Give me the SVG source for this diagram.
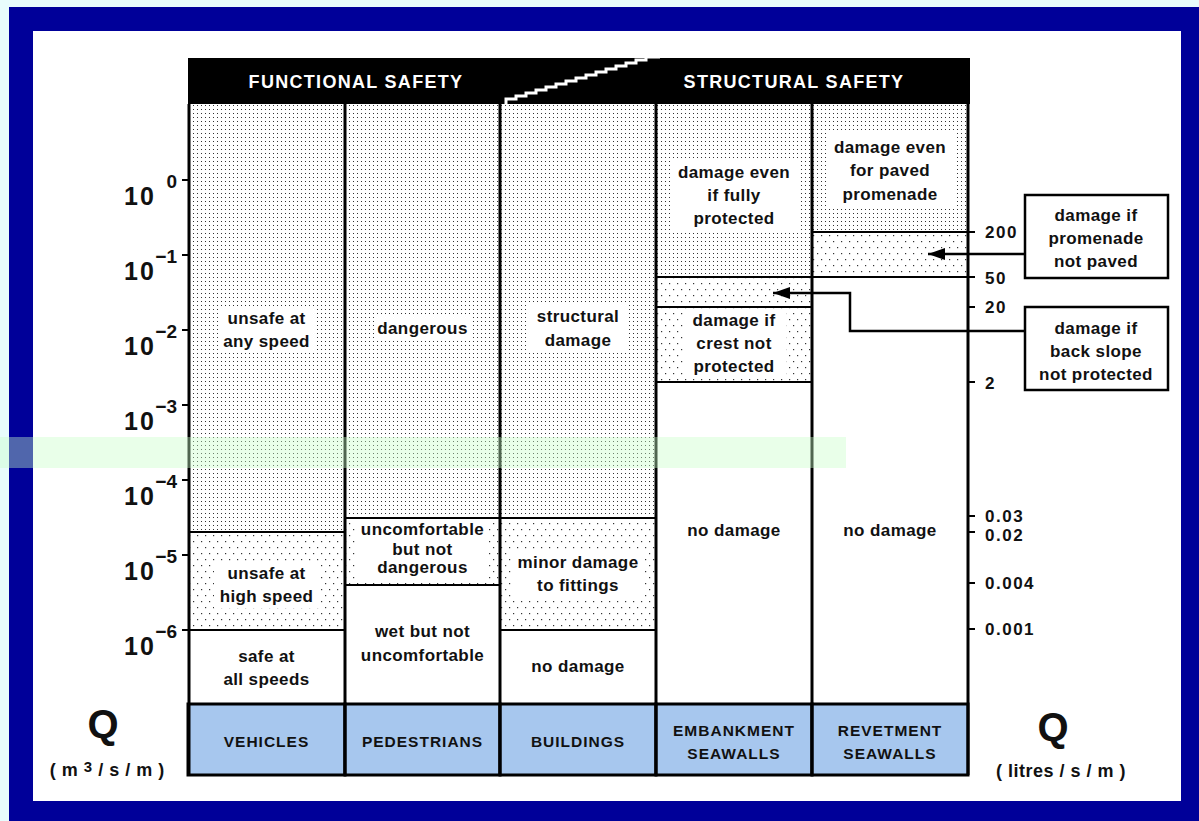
<svg xmlns="http://www.w3.org/2000/svg" width="1199" height="821" viewBox="0 0 1199 821">
<style>
.lbl{font-family:"Liberation Sans",Arial,sans-serif;font-weight:bold;font-size:17px;letter-spacing:0.4px;fill:#111;text-anchor:middle}
.hdr{font-family:"Liberation Sans",Arial,sans-serif;font-weight:bold;font-size:18px;letter-spacing:1.3px;fill:#fff;text-anchor:middle}
.cat{font-family:"Liberation Sans",Arial,sans-serif;font-weight:bold;font-size:15.5px;letter-spacing:1px;fill:#111;text-anchor:middle}
.big{font-family:"Liberation Sans",Arial,sans-serif;font-weight:bold;font-size:25px;letter-spacing:2px;fill:#111}
.exp{font-family:"Liberation Sans",Arial,sans-serif;font-weight:bold;font-size:19px;fill:#111;text-anchor:end}
.num{font-family:"Liberation Sans",Arial,sans-serif;font-weight:bold;font-size:17px;letter-spacing:1.5px;fill:#111}
.q{font-family:"Liberation Sans",Arial,sans-serif;font-weight:bold;font-size:40px;fill:#111;text-anchor:middle}
.unit{font-family:"Liberation Sans",Arial,sans-serif;font-weight:bold;font-size:18px;fill:#111;text-anchor:middle}
.ln{stroke:#000;stroke-width:2;fill:none}
.vl{stroke:#000;stroke-width:3;fill:none}
.wb{fill:#fff}
.box{fill:#fff;stroke:#000;stroke-width:2.5}
.cat-bg{fill:#a7c7ee;stroke:#000;stroke-width:3}
</style>
<defs>
<pattern id="dense" width="4" height="4" patternUnits="userSpaceOnUse">
<rect width="4" height="4" fill="#fff"/>
<rect x="1" y="1" width="1" height="1" fill="#333"/>
</pattern>
<pattern id="sparse" width="8" height="12" patternUnits="userSpaceOnUse">
<rect width="8" height="12" fill="#fff"/>
<rect x="1" y="1" width="1.2" height="1.2" fill="#333"/>
<rect x="5" y="7" width="1.2" height="1.2" fill="#333"/>
</pattern>
<marker id="arr" markerWidth="17" markerHeight="12" refX="17" refY="6" orient="auto" markerUnits="userSpaceOnUse">
<path d="M0,0 L17,6 L0,12 Z" fill="#000"/>
</marker>
</defs>

<rect x="0" y="0" width="1199" height="821" fill="#e8fcfc"/>
<rect x="9" y="7" width="1190" height="814" fill="#000099"/>
<rect x="33" y="31" width="1148" height="770" fill="#fff"/>

<g id="col-vehicles">
<rect x="188" y="104" width="157" height="428" fill="url(#dense)"/>
<rect x="188" y="532" width="157" height="98" fill="url(#sparse)"/>
<rect x="218" y="306" width="97" height="47" class="wb"/>
<text class="lbl" x="266.5" y="324">unsafe at</text>
<text class="lbl" x="266.5" y="347">any speed</text>
<rect x="214" y="561" width="105" height="47" class="wb"/>
<text class="lbl" x="266.5" y="579">unsafe at</text>
<text class="lbl" x="266.5" y="602">high speed</text>
<text class="lbl" x="266.5" y="662">safe at</text>
<text class="lbl" x="266.5" y="685">all speeds</text>
<line class="ln" x1="188" y1="532" x2="345" y2="532"/>
<line class="ln" x1="188" y1="630" x2="345" y2="630"/>
</g>

<g id="col-pedestrians">
<rect x="345" y="104" width="155" height="414" fill="url(#dense)"/>
<rect x="345" y="518" width="155" height="67" fill="url(#sparse)"/>
<rect x="375" y="316" width="95" height="25" class="wb"/>
<text class="lbl" x="422.5" y="334">dangerous</text>
<rect x="356" y="520" width="133" height="59" class="wb"/>
<text class="lbl" x="422.5" y="535">uncomfortable</text>
<text class="lbl" x="422.5" y="555">but not</text>
<text class="lbl" x="422.5" y="573">dangerous</text>
<text class="lbl" x="422.5" y="637">wet but not</text>
<text class="lbl" x="422.5" y="661">uncomfortable</text>
<line class="ln" x1="345" y1="518" x2="500" y2="518"/>
<line class="ln" x1="345" y1="585" x2="500" y2="585"/>
</g>

<g id="col-buildings">
<rect x="500" y="104" width="156" height="414" fill="url(#dense)"/>
<rect x="500" y="518" width="156" height="112" fill="url(#sparse)"/>
<rect x="528" y="304" width="100" height="48" class="wb"/>
<text class="lbl" x="578" y="322">structural</text>
<text class="lbl" x="578" y="346">damage</text>
<rect x="512" y="550" width="132" height="47" class="wb"/>
<text class="lbl" x="578" y="568">minor damage</text>
<text class="lbl" x="578" y="591">to fittings</text>
<text class="lbl" x="578" y="672">no damage</text>
<line class="ln" x1="500" y1="518" x2="656" y2="518"/>
<line class="ln" x1="500" y1="630" x2="656" y2="630"/>
</g>

<g id="col-embankment">
<rect x="656" y="104" width="156" height="173" fill="url(#dense)"/>
<rect x="656" y="277" width="156" height="105" fill="url(#sparse)"/>
<rect x="670" y="158" width="128" height="73" class="wb"/>
<text class="lbl" x="734" y="178">damage even</text>
<text class="lbl" x="734" y="201">if fully</text>
<text class="lbl" x="734" y="224">protected</text>
<rect x="683" y="311" width="103" height="68" class="wb"/>
<text class="lbl" x="734" y="326">damage if</text>
<text class="lbl" x="734" y="349">crest not</text>
<text class="lbl" x="734" y="372">protected</text>
<text class="lbl" x="734" y="536">no damage</text>
<line class="ln" x1="656" y1="307" x2="812" y2="307"/>
<line class="ln" x1="656" y1="382" x2="812" y2="382"/>
</g>

<g id="col-revetment">
<rect x="812" y="104" width="156" height="128" fill="url(#dense)"/>
<rect x="812" y="232" width="156" height="45" fill="url(#sparse)"/>
<rect x="826" y="133" width="128" height="74" class="wb"/>
<text class="lbl" x="890" y="153">damage even</text>
<text class="lbl" x="890" y="176">for paved</text>
<text class="lbl" x="890" y="200">promenade</text>
<text class="lbl" x="890" y="536">no damage</text>
<line class="ln" x1="812" y1="232" x2="968" y2="232"/>
<line class="ln" x1="656" y1="277" x2="968" y2="277"/>
</g>

<g id="header">
<rect x="188" y="58" width="782" height="46" fill="#000"/>
<polyline points="506,105 506,99 516,99 516,96 526,96 526,93 536,93 536,90 546,90 546,87 556,87 556,84 566,84 566,81 576,81 576,78 586,78 586,75 596,75 596,72 606,72 606,69 616,69 616,66 626,66 626,63 636,63 636,60 646,60 646,57 660,57" fill="none" stroke="#fff" stroke-width="3"/>
<text class="hdr" x="356" y="88">FUNCTIONAL SAFETY</text>
<text class="hdr" x="794" y="88">STRUCTURAL SAFETY</text>
</g>

<g id="category-row">
<rect x="188" y="704" width="157" height="71" class="cat-bg"/>
<rect x="345" y="704" width="155" height="71" class="cat-bg"/>
<rect x="500" y="704" width="156" height="71" class="cat-bg"/>
<rect x="656" y="704" width="156" height="71" class="cat-bg"/>
<rect x="812" y="704" width="156" height="71" class="cat-bg"/>
<text class="cat" x="266.5" y="747">VEHICLES</text>
<text class="cat" x="422.5" y="747">PEDESTRIANS</text>
<text class="cat" x="578" y="747">BUILDINGS</text>
<text class="cat" x="734" y="736">EMBANKMENT</text>
<text class="cat" x="734" y="759">SEAWALLS</text>
<text class="cat" x="890" y="736">REVETMENT</text>
<text class="cat" x="890" y="759">SEAWALLS</text>
</g>

<g id="grid-lines">
<line class="vl" x1="189" y1="104" x2="189" y2="775"/>
<line class="vl" x1="345" y1="104" x2="345" y2="775"/>
<line class="vl" x1="500" y1="104" x2="500" y2="775"/>
<line class="vl" x1="656" y1="104" x2="656" y2="775"/>
<line class="vl" x1="812" y1="104" x2="812" y2="775"/>
<line class="vl" x1="968" y1="58" x2="968" y2="775"/>
<line class="ln" x1="188" y1="704" x2="968" y2="704"/>
</g>

<g id="left-axis">
<g class="ln">
<line x1="182" y1="180" x2="188" y2="180"/>
<line x1="182" y1="255" x2="188" y2="255"/>
<line x1="182" y1="330" x2="188" y2="330"/>
<line x1="182" y1="405" x2="188" y2="405"/>
<line x1="182" y1="480" x2="188" y2="480"/>
<line x1="182" y1="555" x2="188" y2="555"/>
<line x1="182" y1="630" x2="188" y2="630"/>
</g>
<text class="big" x="124" y="205">10</text><text class="exp" x="177" y="188">0</text>
<text class="big" x="124" y="280">10</text><text class="exp" x="177" y="263">−1</text>
<text class="big" x="124" y="355">10</text><text class="exp" x="177" y="338">−2</text>
<text class="big" x="124" y="430">10</text><text class="exp" x="177" y="413">−3</text>
<text class="big" x="124" y="505">10</text><text class="exp" x="177" y="488">−4</text>
<text class="big" x="124" y="580">10</text><text class="exp" x="177" y="563">−5</text>
<text class="big" x="124" y="655">10</text><text class="exp" x="177" y="638">−6</text>
<text class="q" x="103" y="738">Q</text>
<text class="unit" x="110" y="776" letter-spacing="6">(m<tspan font-size="15" dy="-4">3</tspan><tspan dy="4">/s/m)</tspan></text>
</g>

<g id="right-axis">
<g class="ln">
<line x1="968" y1="232" x2="975" y2="232"/>
<line x1="968" y1="277" x2="975" y2="277"/>
<line x1="968" y1="307" x2="975" y2="307"/>
<line x1="968" y1="382" x2="975" y2="382"/>
<line x1="968" y1="516" x2="975" y2="516"/>
<line x1="968" y1="532" x2="975" y2="532"/>
<line x1="968" y1="583" x2="975" y2="583"/>
<line x1="968" y1="629" x2="975" y2="629"/>
</g>
<text class="num" x="985" y="238">200</text>
<text class="num" x="985" y="284">50</text>
<text class="num" x="985" y="313">20</text>
<text class="num" x="985" y="389">2</text>
<text class="num" x="985" y="522">0.03</text>
<text class="num" x="985" y="541">0.02</text>
<text class="num" x="985" y="589">0.004</text>
<text class="num" x="985" y="635">0.001</text>
<text class="q" x="1053" y="741">Q</text>
<text class="unit" x="1061" y="777" letter-spacing="0.5">( litres / s / m )</text>
</g>

<g id="note-promenade">
<rect x="1025" y="195" width="143" height="83" class="box"/>
<text class="lbl" x="1096" y="221">damage if</text>
<text class="lbl" x="1096" y="244">promenade</text>
<text class="lbl" x="1096" y="267">not paved</text>
</g>

<g id="note-backslope">
<rect x="1025" y="307" width="143" height="83" class="box"/>
<text class="lbl" x="1096" y="334">damage if</text>
<text class="lbl" x="1096" y="357">back slope</text>
<text class="lbl" x="1096" y="380">not protected</text>
</g>

<g id="connectors" fill="none" stroke="#000" stroke-width="2.5">
<path d="M1025,254 H928" marker-end="url(#arr)"/>
<path d="M1025,331 H850 V293 H773" marker-end="url(#arr)"/>
</g>

<rect x="0" y="437" width="846" height="31" fill="#c8ffc8" fill-opacity="0.4"/>
</svg>
